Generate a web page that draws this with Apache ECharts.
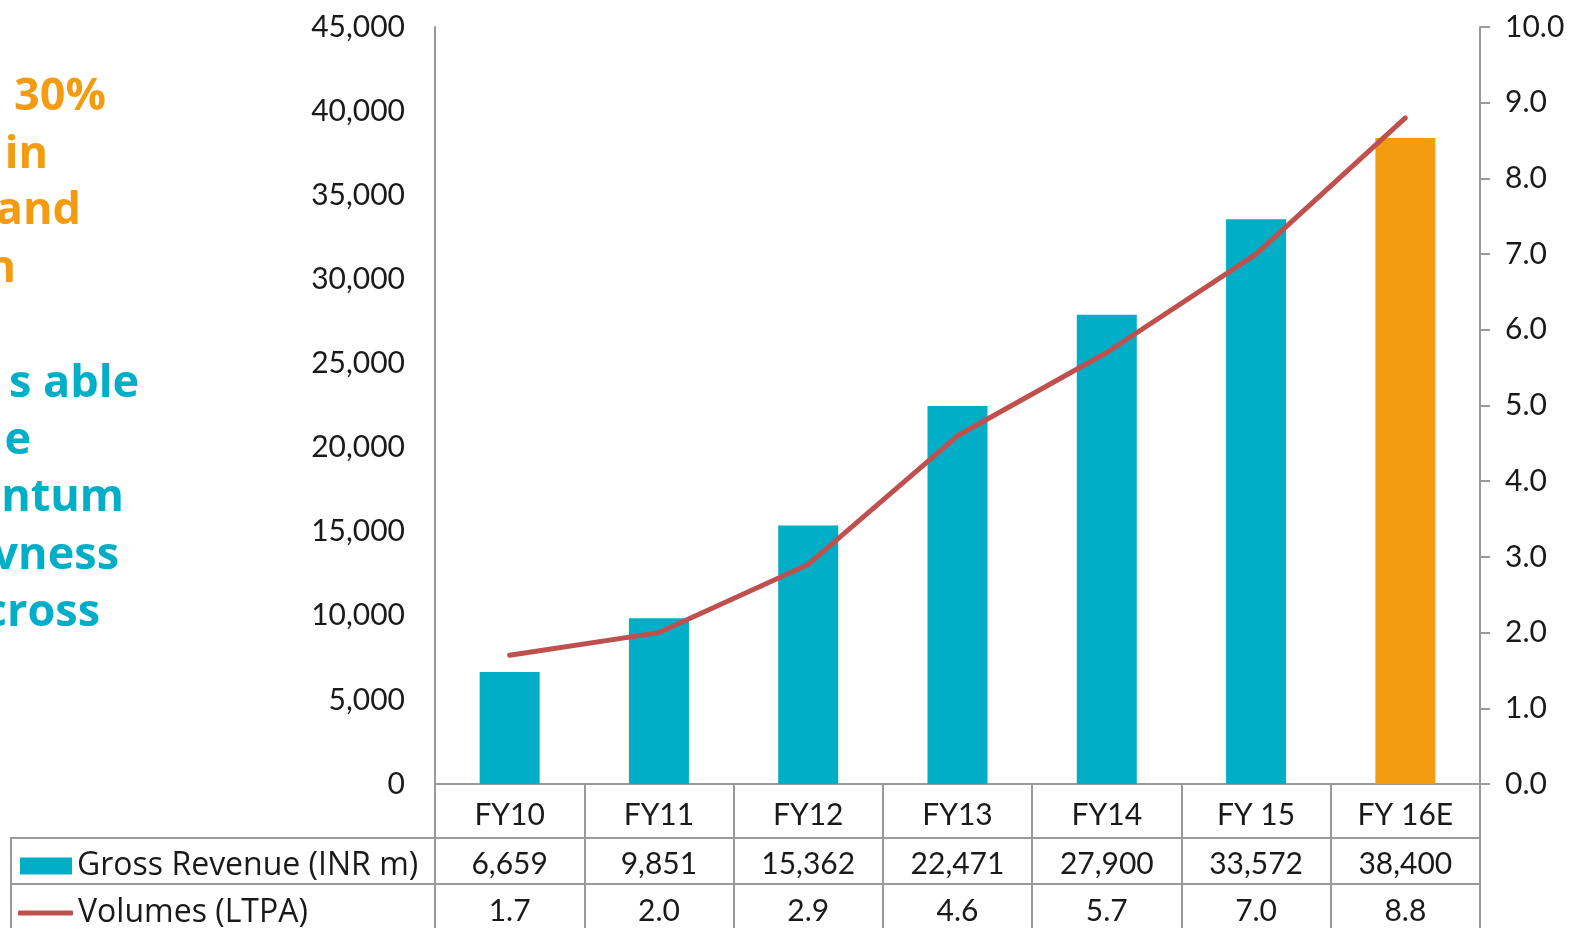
<!DOCTYPE html>
<html>
<head>
<meta charset="utf-8">
<script src="https://cdn.jsdelivr.net/npm/echarts@6/dist/echarts.min.js"></script>
<style>
  html, body { margin: 0; padding: 0; background: #ffffff; }
  #chart { width: 1573px; height: 928px; }
</style>
</head>
<body>
<div id="chart"></div>
<script>
// Fiscal years along the bottom
const categories = ['FY10', 'FY11', 'FY12', 'FY13', 'FY14', 'FY 15', 'FY 16E'];
// Gross revenue, INR million
const grossRevenue = [6659, 9851, 15362, 22471, 27900, 33572, 38400];
// Volumes, LTPA
const volumes = [1.7, 2.0, 2.9, 4.6, 5.7, 7.0, 8.8];
// The last year is an estimate and is highlighted
const estimateIndex = 6;
// Axis tick labels
const revenueTicks = [0, 5000, 10000, 15000, 20000, 25000, 30000, 35000, 40000, 45000];
const volumeTicks = [0, 1, 2, 3, 4, 5, 6, 7, 8, 9, 10];

const TEAL = '#00AEC7';
const ORANGE = '#F39C12';
const RED = '#C0504D';
const GRID_GRAY = '#9a9a9a';
const TEXT = '#1a1a1a';
const FONT = 'Lato, "Open Sans", sans-serif';
const LEGEND_FONT = '"Open Sans", Lato, sans-serif';
const SIDE_FONT = '"Open Sans", sans-serif';

const fmtRevenue = v => Number(v).toLocaleString('en-US');
const fmtVolume = v => Number(v).toFixed(1);

const barData = grossRevenue.map((v, i) =>
  i === estimateIndex ? { value: v, itemStyle: { color: ORANGE } } : v);

// Side commentary text, clipped at the page edge
const sideLines = [
  { t: '30%', x: 106, y: 97, c: ORANGE },
  { t: 'in', x: 48, y: 155, c: ORANGE },
  { t: 'and', x: 81, y: 211, c: ORANGE },
  { t: 'n', x: 16, y: 269, c: ORANGE },
  { t: 's able', x: 139, y: 384, c: TEAL },
  { t: 'e', x: 31, y: 441, c: TEAL },
  { t: 'entum', x: 124, y: 498, c: TEAL },
  { t: 'vness', x: 119, y: 556, c: TEAL },
  { t: 'cross', x: 100, y: 613, c: TEAL }
];

const chart = echarts.init(document.getElementById('chart'), null, { renderer: 'canvas' });

const tableAxis = (margin, formatter) => ({
  type: 'category',
  position: 'bottom',
  gridIndex: 0,
  data: categories,
  axisLine: { show: false },
  axisTick: { show: false },
  splitLine: { show: false },
  axisLabel: {
    margin: margin,
    fontFamily: FONT,
    fontSize: 30,
    color: TEXT,
    interval: 0,
    formatter: formatter
  }
});

chart.setOption({
  backgroundColor: '#ffffff',
  animation: false,
  grid: { left: 435, right: 93, top: 27, bottom: 144, containLabel: false },
  legend: [
    {
      data: [{ name: 'Gross Revenue (INR m)', icon: 'rect' }],
      left: 20, top: 850, padding: 0,
      itemWidth: 52, itemHeight: 17, itemGap: 5,
      textStyle: { fontFamily: LEGEND_FONT, fontSize: 32, color: TEXT }
    },
    {
      data: [{ name: 'Volumes (LTPA)', icon: 'roundRect' }],
      left: 18, top: 897, padding: 0,
      itemWidth: 55, itemHeight: 5, itemGap: 5,
      textStyle: { fontFamily: LEGEND_FONT, fontSize: 32, color: TEXT }
    }
  ],
  xAxis: [
    {
      type: 'category',
      position: 'bottom',
      data: categories,
      boundaryGap: true,
      axisLine: { show: true, lineStyle: { color: GRID_GRAY, width: 2 } },
      axisTick: { show: true, length: 144, interval: 0, lineStyle: { color: GRID_GRAY, width: 2 } },
      axisLabel: { margin: 16, fontFamily: FONT, fontSize: 30, color: TEXT, interval: 0 }
    },
    tableAxis(65, (v, i) => fmtRevenue(grossRevenue[i])),
    tableAxis(112, (v, i) => fmtVolume(volumes[i]))
  ],
  yAxis: [
    {
      type: 'value',
      min: revenueTicks[0],
      max: revenueTicks[revenueTicks.length - 1],
      interval: revenueTicks[1] - revenueTicks[0],
      axisLine: { show: true, lineStyle: { color: GRID_GRAY, width: 2 } },
      axisTick: { show: false },
      splitLine: { show: false },
      axisLabel: { margin: 30, fontFamily: FONT, fontSize: 30, color: TEXT, formatter: fmtRevenue }
    },
    {
      type: 'value',
      position: 'right',
      min: volumeTicks[0],
      max: volumeTicks[volumeTicks.length - 1],
      interval: volumeTicks[1] - volumeTicks[0],
      axisLine: { show: true, lineStyle: { color: GRID_GRAY, width: 2 } },
      axisTick: { show: true, length: 10, lineStyle: { color: GRID_GRAY, width: 2 } },
      splitLine: { show: false },
      axisLabel: { margin: 25, fontFamily: FONT, fontSize: 30, color: TEXT, formatter: fmtVolume }
    }
  ],
  series: [
    {
      name: 'Gross Revenue (INR m)',
      type: 'bar',
      xAxisIndex: 0,
      yAxisIndex: 0,
      data: barData,
      barWidth: 60,
      itemStyle: { color: TEAL }
    },
    {
      name: 'Volumes (LTPA)',
      type: 'line',
      xAxisIndex: 0,
      yAxisIndex: 1,
      data: volumes,
      symbol: 'none',
      lineStyle: { color: RED, width: 5, cap: 'round', join: 'round' },
      itemStyle: { color: RED }
    }
  ],
  graphic: [
    // data table rules
    { type: 'line', shape: { x1: 10, y1: 838, x2: 1480, y2: 838 }, style: { stroke: GRID_GRAY, lineWidth: 2 }, silent: true },
    { type: 'line', shape: { x1: 10, y1: 884, x2: 1480, y2: 884 }, style: { stroke: GRID_GRAY, lineWidth: 2 }, silent: true },
    { type: 'line', shape: { x1: 11, y1: 838, x2: 11, y2: 928 }, style: { stroke: GRID_GRAY, lineWidth: 2 }, silent: true }
  ].concat(sideLines.map(l => ({
    type: 'text',
    x: l.x,
    y: l.y,
    silent: true,
    style: {
      text: l.t,
      fill: l.c,
      font: 'bold 45px ' + SIDE_FONT,
      align: 'right',
      verticalAlign: 'middle'
    }
  })))
});
</script>
</body>
</html>
